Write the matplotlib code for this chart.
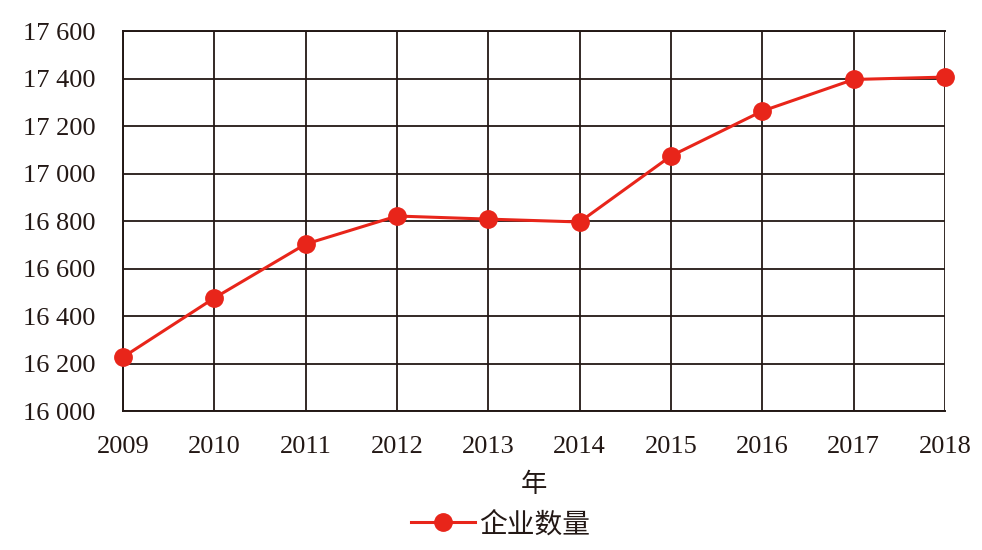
import matplotlib
matplotlib.use("Agg")
import matplotlib.pyplot as plt
from matplotlib.ticker import FuncFormatter

years = [2009, 2010, 2011, 2012, 2013, 2014, 2015, 2016, 2017, 2018]
companies = [16227, 16476, 16703, 16821, 16808, 16796, 17074, 17263, 17396, 17406]
y_ticks = [16000, 16200, 16400, 16600, 16800, 17000, 17200, 17400, 17600]

plt.rcParams['font.family'] = ['Liberation Serif', 'Noto Sans CJK SC']
grid_col = '#231815'
red = '#e8251a'

fig = plt.figure(figsize=(9.82, 5.5), dpi=100)
ax = fig.add_axes([0.1253, 0.2527, 0.837, 0.6909])

ax.plot(years, companies, color=red, lw=2.2, marker='o', ms=12.5,
        markerfacecolor=red, markeredgecolor=red, label='企业数量', zorder=3,
        clip_on=False)

ax.set_xlim(2009, 2018)
ax.set_ylim(16000, 17600)
ax.set_xticks(years)
ax.set_yticks(y_ticks)
ax.yaxis.set_major_formatter(FuncFormatter(lambda v, p: f"{int(v):,}".replace(',', ' ')))
ax.grid(True, color=grid_col, lw=1.3)
ax.set_axisbelow(True)
for s in ['left', 'bottom', 'top']:
    ax.spines[s].set_color(grid_col)
    ax.spines[s].set_linewidth(1.4)
ax.spines['right'].set_visible(False)
ax.tick_params(length=0, labelsize=19, colors='#231815')
ax.tick_params(axis='x', pad=18)
ax.tick_params(axis='y', pad=20)

ax.set_xlabel('年', fontsize=19, family='Noto Sans CJK SC', color='#231815', labelpad=9)
leg = fig.legend(loc='center', bbox_to_anchor=(0.51, 0.047), frameon=False,
                 prop={'family': 'Noto Sans CJK SC', 'size': 20}, handlelength=2.3,
                 handletextpad=0.15)
for t in leg.get_texts():
    t.set_color('#231815')

fig.savefig('out.png', dpi=100)
